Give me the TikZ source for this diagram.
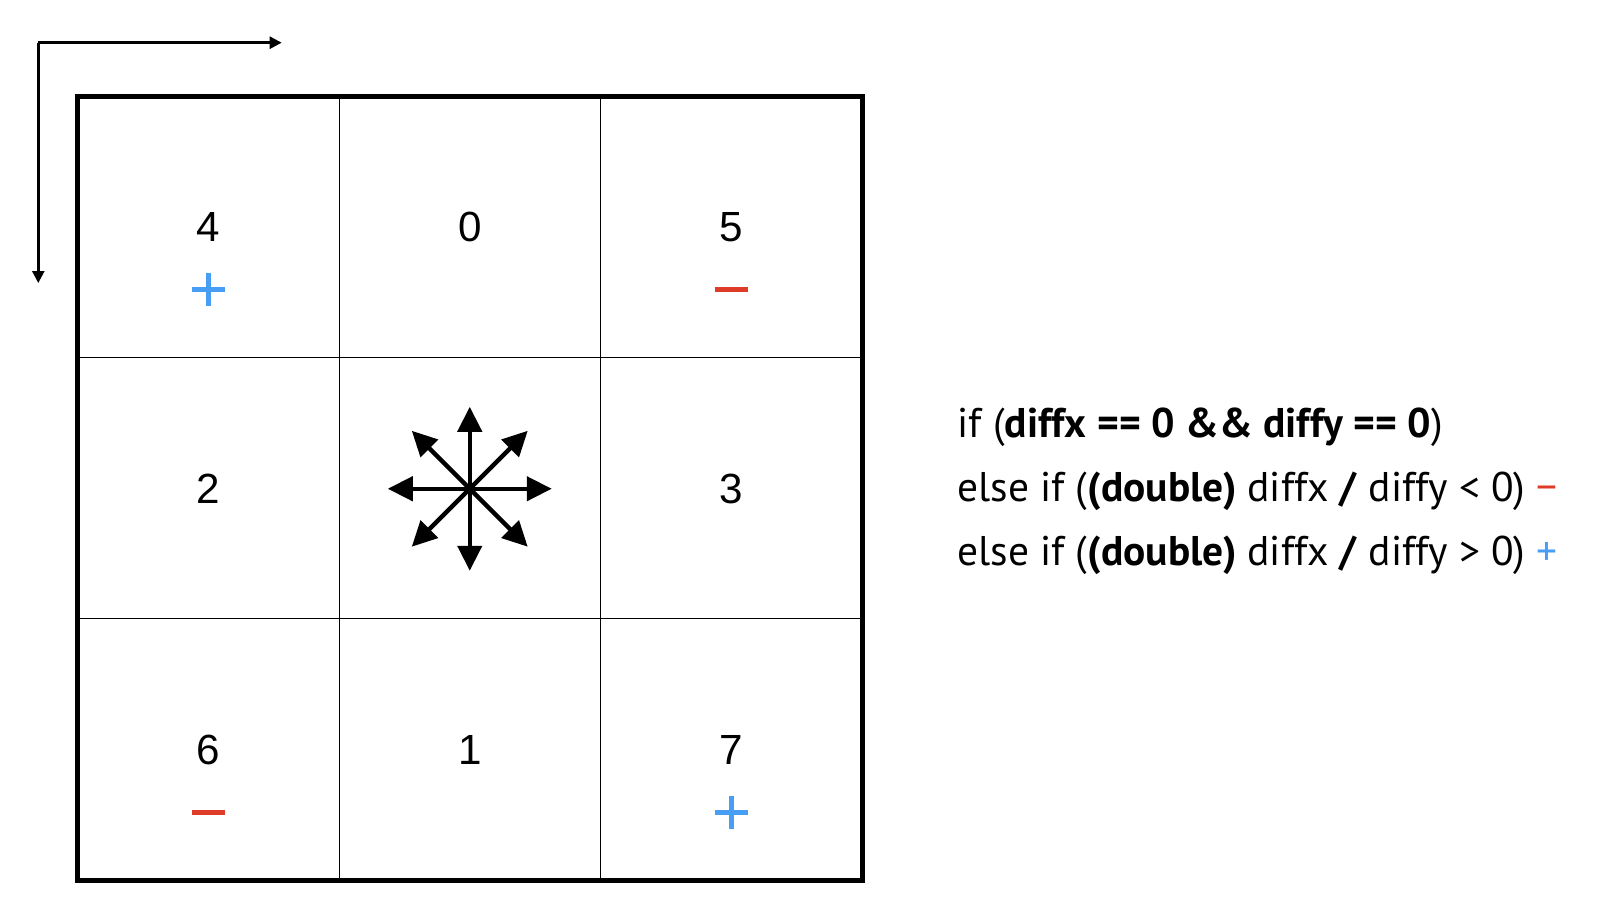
\documentclass[tikz,border=0pt]{standalone}
\usepackage{fontspec}
\setmainfont{Liberation Sans}
\newfontfamily\codefont{PT Sans}
\usepackage{tikz}
\usetikzlibrary{arrows.meta}
\definecolor{signblue}{RGB}{72,157,245}
\definecolor{signred}{RGB}{222,60,40}
\tikzstyle{axis} = [line width=0.025cm,-{Triangle[length=0.12cm,width=0.12cm]}]
\tikzstyle{dir} = [line width=0.045cm,-{Triangle[length=0.25cm,width=0.24cm]}]
\tikzstyle{cellnum} = [font=\fontsize{12}{14}\selectfont,inner sep=0pt]
\tikzstyle{code} = [font=\codefont\fontsize{11.8}{14}\selectfont,anchor=base west,inner sep=0pt]
\tikzstyle{sign} = [line width=0.055cm]

\begin{document}
\begin{tikzpicture}
            \useasboundingbox (0,0) rectangle (16,9.2);
            % axes
            \coordinate (o) at (0.383,8.773);
            \coordinate (xend) at (2.817,8.773);
            \coordinate (yend) at (0.383,6.37);
            \draw[axis] (o) -- (xend);
            \draw[axis] (o) -- (yend);
            % grid
            \foreach \k in {1,2} {
                \draw[line width=0.2pt] ({0.775+2.615*\k},0.40) -- ({0.775+2.615*\k},8.235);
                \draw[line width=0.2pt] (0.775,{0.40+2.615*\k}) -- (8.62,{0.40+2.615*\k});
            }
            \draw[line width=0.05cm] (0.775,0.40) rectangle (8.62,8.235);
            % cell numbers
            \foreach \n/\i/\j in {4/0/0, 0/1/0, 5/2/0, 2/0/1, 3/2/1, 6/0/2, 1/1/2, 7/2/2}
                \node[cellnum] (c\n) at ({0.775+2.615*(\i+0.5)},{8.235-2.615*(\j+0.5)}) {\n};
            % signs
            \draw[sign,signblue] ([yshift=-0.62cm,xshift=-0.165cm]c4.center) -- ++(0.33,0);
            \draw[sign,signblue] ([yshift=-0.455cm]c4.center) -- ++(0,-0.33);
            \draw[sign,signred] ([yshift=-0.62cm,xshift=-0.165cm]c5.center) -- ++(0.33,0);
            \draw[sign,signred] ([yshift=-0.62cm,xshift=-0.165cm]c6.center) -- ++(0.33,0);
            \draw[sign,signblue] ([yshift=-0.62cm,xshift=-0.165cm]c7.center) -- ++(0.33,0);
            \draw[sign,signblue] ([yshift=-0.455cm]c7.center) -- ++(0,-0.33);
            % directions
            \coordinate (mid) at (4.6975,4.3125);
            \foreach \a in {0,45,...,315}
                \draw[dir] (mid) -- ++(\a:0.82);
            % conditions
            \node[code] (t1) at (9.57,4.83) {if (\textbf{diffx == 0 \&\& diffy == 0})};
            \node[code] (t2) at (9.57,4.19) {else if (\textbf{(double)} diffx \textbf{/} diffy < 0) \textcolor{signred}{−}};
            \node[code] (t3) at (9.57,3.55) {else if (\textbf{(double)} diffx \textbf{/} diffy > 0) \textcolor{signblue}{+}};
\end{tikzpicture}
\end{document}
